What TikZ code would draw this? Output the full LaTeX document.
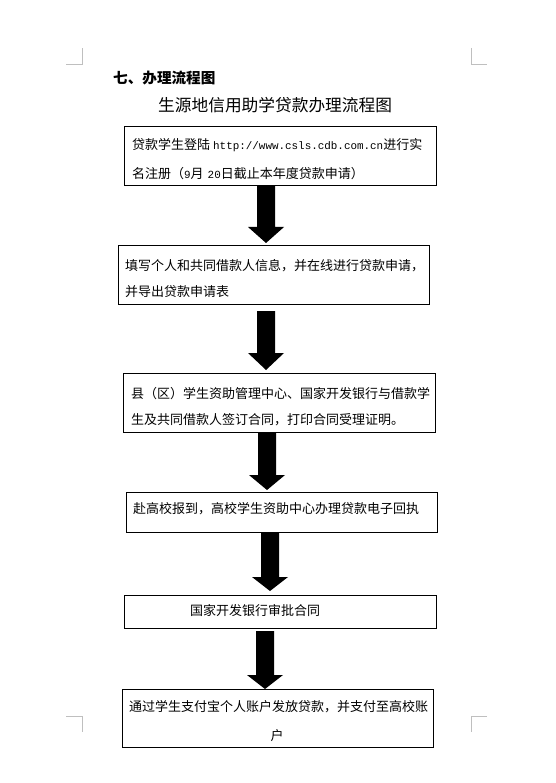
\documentclass[tikz,border=0pt]{standalone}
\usepackage{fontspec}
\newfontfamily\cjk{Noto Sans CJK SC}
\newfontfamily\latmono{Liberation Mono}
\newcommand\uurl[1]{{\latmono\fontsize{10.9pt}{11pt}\selectfont #1}}
\newcommand\blockarr[4]{% #1 centre x, #2 top y, #3 head top y, #4 tip y
  \fill[arrowfill] (#1-9,#2) -- (#1+9,#2) -- (#1+9,#3) -- (#1+18,#3) -- (#1,#4)
    -- (#1-18,#3) -- (#1-9,#3) -- cycle;}
\begin{document}
\begin{tikzpicture}[x=1pt,y=-1pt,
  box/.style={draw=black,line width=1pt,inner sep=0pt},
  txt/.style={inner sep=0pt,anchor=west,text height=0.88em,text depth=0.12em,
    font=\cjk\fontsize{13pt}{13pt}\selectfont},
  corner/.style={draw=black!25,line width=0.8pt},
  arrowfill/.style={fill=black}]
\useasboundingbox (0,0) rectangle (555,783);
% corner marks
\draw[corner] (66,64) -- (82,64) -- (82,48);
\draw[corner] (471,48) -- (471,64) -- (487,64);
\draw[corner] (66,716) -- (82,716) -- (82,732);
\draw[corner] (487,716) -- (471,716) -- (471,732);
% heading and title
\node[txt,font=\cjk\bfseries\fontsize{14.6pt}{15pt}\selectfont] (head) at (113,80) {七、办理流程图};
\node[txt,font=\cjk\fontsize{16.7pt}{17pt}\selectfont] (title) at (158,108) {生源地信用助学贷款办理流程图};
% boxes
\draw[box] (124,127) rectangle (436,186);
\draw[box] (118,246) rectangle (429,304);
\draw[box] (123,373) rectangle (435,432);
\draw[box] (126,492) rectangle (437,532);
\draw[box] (124,595) rectangle (436,628);
\draw[box] (122,689) rectangle (433,747);
% texts
\node[txt] (b1a) at (132,146) {贷款学生登陆\hspace{3pt}\uurl{http://www.csls.cdb.com.cn}进行实};
\node[txt] (b1b) at (132,175) {名注册（\uurl{9}月\hspace{4pt}\uurl{20}日截止本年度贷款申请）};
\node[txt] (b2a) at (125,267) {填写个人和共同借款人信息，并在线进行贷款申请，};
\node[txt] (b2b) at (125,293) {并导出贷款申请表};
\node[txt] (b3a) at (131,395) {县（区）学生资助管理中心、国家开发银行与借款学};
\node[txt] (b3b) at (131,421) {生及共同借款人签订合同，打印合同受理证明。};
\node[txt] (b4) at (133,510) {赴高校报到，高校学生资助中心办理贷款电子回执};
\node[txt] (b5) at (190,612) {国家开发银行审批合同};
\node[txt] (b6a) at (129,708) {通过学生支付宝个人账户发放贷款，并支付至高校账};
\node[txt,anchor=center] (b6b) at (277,737) {户};
% block arrows
\blockarr{266}{186}{227}{243}
\blockarr{266}{311}{353}{370}
\blockarr{267}{432}{475}{490}
\blockarr{270}{532}{577}{591}
\blockarr{265}{631}{675}{689}
\end{tikzpicture}
\end{document}
